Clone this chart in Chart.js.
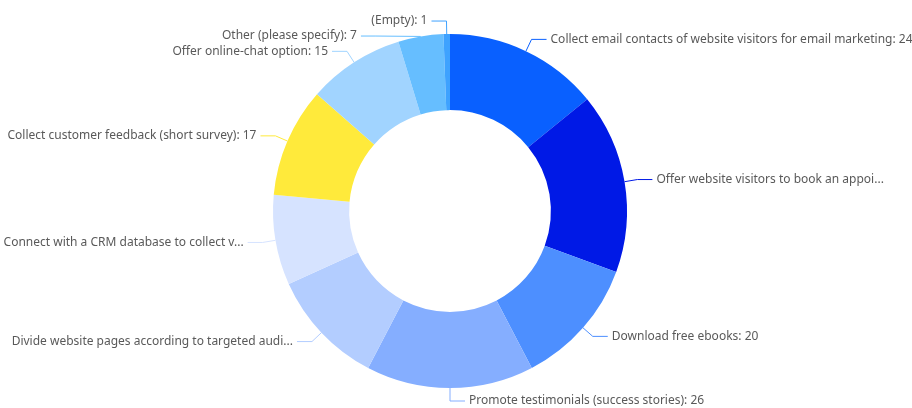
<!DOCTYPE html>
<html>
<head>
<meta charset="utf-8">
<script src="https://cdn.jsdelivr.net/npm/chart.js@4/dist/chart.umd.min.js"></script>
<style>
  html, body { margin: 0; padding: 0; background: #fff; }
  #wrap { position: relative; width: 912px; height: 408px; }
</style>
</head>
<body>
<div id="wrap"><canvas id="donut"></canvas></div>
<script>
// answers, clockwise from 12 o'clock
const categories = [
    'Collect email contacts of website visitors for email marketing',
    'Offer website visitors to book an appoi...',
    'Download free ebooks',
    'Promote testimonials (success stories)',
    'Divide website pages according to targeted audi...',
    'Connect with a CRM database to collect v...',
    'Collect customer feedback (short survey)',
    'Offer online-chat option',
    'Other (please specify)',
    '(Empty)'
];
const counts = [24, 28, 20, 26, 18, 14, 17, 15, 7, 1];
const colors = [
    '#0960ff', '#0019e6', '#4d8fff', '#85aeff', '#b3cdff',
    '#d6e3ff', '#ffea3b', '#a1d4ff', '#66beff', '#3ea2ff'
];

// long names are cut short, those show no count
function labelText(name, value) {
    return name.endsWith('...') ? name : name + ': ' + value;
}

// ECharts-like outside labels: radial stub, horizontal tail, text
const outsideLabels = {
    id: 'outsideLabels',
    afterDatasetsDraw(chart) {
        const ctx = chart.ctx;
        const meta = chart.getDatasetMeta(0);
        const len1 = 13, len2 = 15, gap = 4, lineH = 15;
        const items = meta.data.map((arc, i) => {
            const p = arc.getProps(['x', 'y', 'startAngle', 'endAngle', 'outerRadius'], true);
            const mid = (p.startAngle + p.endAngle) / 2;
            const cos = Math.cos(mid), sin = Math.sin(mid);
            const R = p.outerRadius + len1;
            return {
                i, cx: p.x, cy: p.y, R,
                right: cos >= -1e-6,
                x1: p.x + p.outerRadius * cos, y1: p.y + p.outerRadius * sin,
                x2: p.x + R * cos, y2: p.y + R * sin,
                ly: p.y + R * sin
            };
        });

        // push labels apart on each side so they don't overlap
        [true, false].forEach(side => {
            const group = items.filter(it => it.right === side).sort((a, b) => a.ly - b.ly);
            for (let k = 1; k < group.length; k++) {
                if (group[k].ly - group[k - 1].ly < lineH) {
                    group[k].ly = group[k - 1].ly + lineH;
                }
            }
        });

        ctx.save();
        ctx.font = '12px "Noto Sans", sans-serif';
        ctx.textBaseline = 'middle';
        items.forEach(it => {
            let x2 = it.x2;
            if (Math.abs(it.ly - it.y2) > 0.5) {
                const dy = it.ly - it.cy;
                const dx = Math.sqrt(Math.max(it.R * it.R - dy * dy, 0));
                x2 = it.cx + (it.right ? dx : -dx);
            }
            const x3 = x2 + (it.right ? len2 : -len2);
            ctx.strokeStyle = colors[it.i];
            ctx.lineWidth = 1;
            ctx.beginPath();
            ctx.moveTo(it.x1, it.y1);
            ctx.lineTo(x2, it.ly);
            ctx.lineTo(x3, it.ly);
            ctx.stroke();
            ctx.fillStyle = '#595959';
            ctx.textAlign = it.right ? 'left' : 'right';
            ctx.fillText(labelText(categories[it.i], counts[it.i]),
                x3 + (it.right ? gap : -gap), it.ly);
        });
        ctx.restore();
    }
};

new Chart(document.getElementById('donut'), {
    type: 'doughnut',
    data: {
        labels: categories,
        datasets: [{
            data: counts,
            backgroundColor: colors,
            borderWidth: 0
        }]
    },
    options: {
        responsive: true,
        maintainAspectRatio: false,
        animation: false,
        cutout: '57%',
        layout: { padding: { top: 34, bottom: 20, left: 0, right: 12 } },
        plugins: {
            legend: { display: false },
            tooltip: { enabled: false }
        }
    },
    plugins: [outsideLabels]
});
</script>
</body>
</html>
